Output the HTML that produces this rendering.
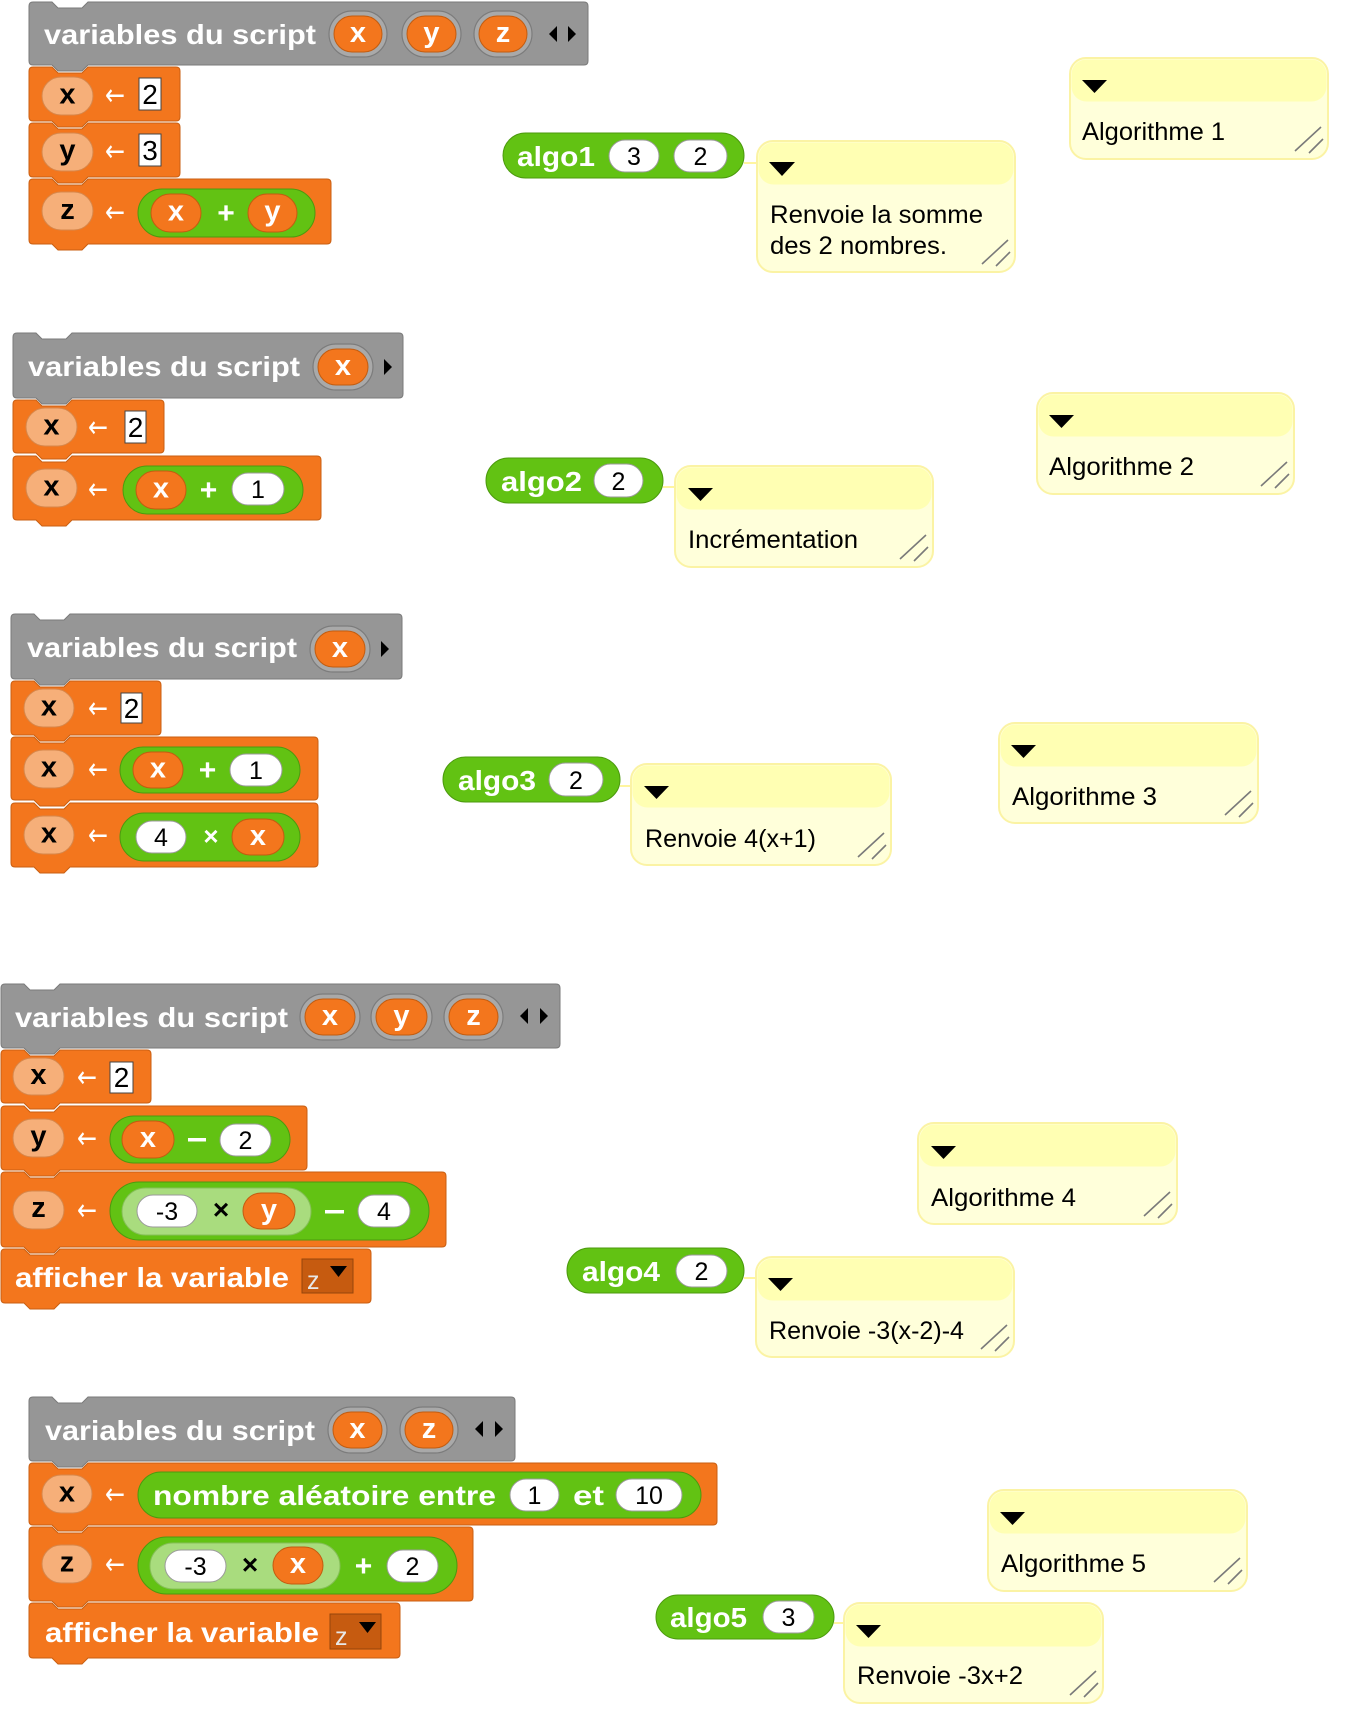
<!DOCTYPE html>
<html><head><meta charset="utf-8">
<style>
html,body{margin:0;padding:0;background:#fff;}
svg{display:block;}
text{font-family:"Liberation Sans","DejaVu Sans",sans-serif;}
.lb{font-weight:bold;fill:#fff;font-size:28px;}
.vw{font-weight:bold;fill:#fff;font-size:29px;text-anchor:middle;}
.vb{font-weight:bold;fill:#000;font-size:29px;text-anchor:middle;}
.nm{fill:#000;font-size:25px;text-anchor:middle;}
.in{fill:#000;font-size:28px;text-anchor:middle;}
.ar{fill:#fff;font-size:30px;font-family:"DejaVu Sans",sans-serif !important;}
.op{fill:#fff;font-weight:bold;font-size:30px;text-anchor:middle;}
.opb{fill:#000;font-weight:bold;font-size:28px;text-anchor:middle;}
.cm{fill:#000;font-size:25px;}
.blk{fill:#F3761D;stroke:#C95F12;stroke-width:1;}
.gry{fill:#969696;stroke:#7A7A7A;stroke-width:1;}
.lp{fill:#F6AF79;stroke:#D7874B;stroke-width:1;}
.op1{fill:#F3761D;stroke:#C25C10;stroke-width:1;}
.ring{fill:#A9A9A9;stroke:#7C7C7C;stroke-width:1.2;}
.gr{fill:#62C213;stroke:#4C9A0E;stroke-width:1;}
.lg{fill:#A9DC7E;stroke:#86BF58;stroke-width:1;}
.wo{fill:#fff;stroke:#9A9A9A;stroke-width:1;}
.sl{fill:#fff;stroke:#444;stroke-width:1;}
.cb{fill:#FFFFDA;stroke:#FBF3A4;stroke-width:2;}
.ch{fill:#FFFFB3;}
.rh{stroke:#7A7A7A;stroke-width:1.6;fill:none;}
.ln{stroke:#FFF5A0;stroke-width:2;}
.dd{fill:#C65B10;stroke:#96450B;stroke-width:1;}
</style></head>
<body>
<svg width="1350" height="1736" viewBox="0 0 1350 1736" xmlns="http://www.w3.org/2000/svg">
<rect width="1350" height="1736" fill="#fff"/>

<!-- ============ SECTION 1 ============ -->
<path class="gry" d="M29,6 Q29,2 33,2 H52 L58,8 H82 L88,2 H584 Q588,2 588,6 V61 Q588,65 584,65 H88 L82,71 H58 L52,65 H33 Q29,65 29,61 Z"/>
<text class="lb" x="44" y="44" textLength="272" lengthAdjust="spacingAndGlyphs">variables du script</text>
<rect class="ring" x="329" y="11" width="58" height="46" rx="23"/>
<rect class="op1" x="334" y="16" width="48" height="36" rx="18"/>
<text class="vw" x="358" y="42">x</text>
<rect class="ring" x="402" y="11" width="59" height="46" rx="23"/>
<rect class="op1" x="407" y="16" width="49" height="36" rx="18"/>
<text class="vw" x="431.5" y="42">y</text>
<rect class="ring" x="474" y="11" width="58" height="46" rx="23"/>
<rect class="op1" x="479" y="16" width="48" height="36" rx="18"/>
<text class="vw" x="503" y="42">z</text>
<polygon points="549,34 557,26 557,42" fill="#000"/>
<polygon points="568,26 568,42 576,34" fill="#000"/>

<path class="blk" d="M29,71 Q29,67 33,67 H52 L58,73 H82 L88,67 H176 Q180,67 180,71 V117 Q180,121 176,121 H88 L82,127 H58 L52,121 H33 Q29,121 29,117 Z"/>
<rect class="lp" x="42" y="77" width="51" height="38" rx="19"/>
<text class="vb" x="67.5" y="103.5">x</text>
<text class="ar" x="105" y="105" textLength="20" lengthAdjust="spacingAndGlyphs">←</text>
<rect class="sl" x="139" y="78" width="22" height="32"/>
<text class="in" x="150" y="104">2</text>

<path class="blk" d="M29,127 Q29,123 33,123 H52 L58,129 H82 L88,123 H176 Q180,123 180,127 V173 Q180,177 176,177 H88 L82,183 H58 L52,177 H33 Q29,177 29,173 Z"/>
<rect class="lp" x="42" y="133" width="51" height="38" rx="19"/>
<text class="vb" x="67.5" y="159.5">y</text>
<text class="ar" x="105" y="161" textLength="20" lengthAdjust="spacingAndGlyphs">←</text>
<rect class="sl" x="139" y="134" width="22" height="32"/>
<text class="in" x="150" y="160">3</text>

<path class="blk" d="M29,183 Q29,179 33,179 H52 L58,185 H82 L88,179 H327 Q331,179 331,183 V240 Q331,244 327,244 H88 L82,250 H58 L52,244 H33 Q29,244 29,240 Z"/>
<rect class="lp" x="42" y="192" width="51" height="38" rx="19"/>
<text class="vb" x="67.5" y="219">z</text>
<text class="ar" x="105" y="222" textLength="20" lengthAdjust="spacingAndGlyphs">←</text>
<rect class="gr" x="138" y="189" width="177" height="48" rx="24"/>
<rect class="op1" x="151" y="194" width="50" height="38" rx="19"/>
<text class="vw" x="176" y="220.5">x</text>
<text class="op" x="226" y="223">+</text>
<rect class="op1" x="248" y="194" width="49" height="38" rx="19"/>
<text class="vw" x="272.5" y="220.5">y</text>

<line class="ln" x1="744" y1="163" x2="758" y2="163"/>
<rect class="gr" x="503" y="133" width="241" height="45" rx="22.5"/>
<text class="lb" x="517" y="166" textLength="78" lengthAdjust="spacingAndGlyphs">algo1</text>
<rect class="wo" x="609" y="140" width="50" height="32" rx="16"/>
<text class="nm" x="634" y="165">3</text>
<rect class="wo" x="674" y="140" width="53" height="32" rx="16"/>
<text class="nm" x="700.5" y="165">2</text>

<!-- comment C1a -->
<rect class="cb" x="757" y="141" width="258" height="131" rx="16"/>
<rect class="ch" x="758.5" y="142.5" width="255" height="42" rx="15"/>
<polygon points="769,162 795,162 782,176" fill="#000"/>
<text class="cm" x="770" y="223" textLength="213" lengthAdjust="spacingAndGlyphs">Renvoie la somme</text>
<text class="cm" x="770" y="254" textLength="177" lengthAdjust="spacingAndGlyphs">des 2 nombres.</text>
<path class="rh" d="M1008,240 L982,264 M1010,252 L996,266"/>
<!-- comment C1b -->
<rect class="cb" x="1070" y="58" width="258" height="101" rx="16"/>
<rect class="ch" x="1071.5" y="59.5" width="255" height="42" rx="15"/>
<polygon points="1082,80 1107,80 1094.5,93" fill="#000"/>
<text class="cm" x="1082" y="140" textLength="143" lengthAdjust="spacingAndGlyphs">Algorithme 1</text>
<path class="rh" d="M1321,127 L1295,151 M1323,139 L1309,153"/>

<!-- ============ SECTION 2 ============ -->
<path class="gry" d="M13,337 Q13,333 17,333 H36 L42,339 H66 L72,333 H399 Q403,333 403,337 V394 Q403,398 399,398 H72 L66,404 H42 L36,398 H17 Q13,398 13,394 Z"/>
<text class="lb" x="28" y="376" textLength="272" lengthAdjust="spacingAndGlyphs">variables du script</text>
<rect class="ring" x="313" y="344" width="60" height="46" rx="23"/>
<rect class="op1" x="318" y="349" width="50" height="36" rx="18"/>
<text class="vw" x="343" y="375">x</text>
<polygon points="384,359 384,375 392,367" fill="#000"/>

<path class="blk" d="M13,404 Q13,400 17,400 H36 L42,406 H66 L72,400 H160 Q164,400 164,404 V449 Q164,453 160,453 H72 L66,459 H42 L36,453 H17 Q13,453 13,449 Z"/>
<rect class="lp" x="26" y="408" width="51" height="38" rx="19"/>
<text class="vb" x="51.5" y="434.5">x</text>
<text class="ar" x="88" y="437" textLength="20" lengthAdjust="spacingAndGlyphs">←</text>
<rect class="sl" x="125" y="411" width="21" height="32"/>
<text class="in" x="135.5" y="437">2</text>

<path class="blk" d="M13,460 Q13,456 17,456 H36 L42,462 H66 L72,456 H317 Q321,456 321,460 V516 Q321,520 317,520 H72 L66,526 H42 L36,520 H17 Q13,520 13,516 Z"/>
<rect class="lp" x="26" y="469" width="51" height="38" rx="19"/>
<text class="vb" x="51.5" y="495.5">x</text>
<text class="ar" x="88" y="499" textLength="20" lengthAdjust="spacingAndGlyphs">←</text>
<rect class="gr" x="123" y="466" width="180" height="48" rx="24"/>
<rect class="op1" x="136" y="471" width="50" height="38" rx="19"/>
<text class="vw" x="161" y="497.5">x</text>
<text class="op" x="208.5" y="500">+</text>
<rect class="wo" x="232" y="473" width="52" height="32" rx="16"/>
<text class="nm" x="258" y="498">1</text>

<line class="ln" x1="663" y1="487" x2="676" y2="487"/>
<rect class="gr" x="486" y="458" width="177" height="45" rx="22.5"/>
<text class="lb" x="501" y="491" textLength="81" lengthAdjust="spacingAndGlyphs">algo2</text>
<rect class="wo" x="594" y="464" width="49" height="33" rx="16.5"/>
<text class="nm" x="618.5" y="490">2</text>

<rect class="cb" x="675" y="466" width="258" height="101" rx="16"/>
<rect class="ch" x="676.5" y="467.5" width="255" height="42" rx="15"/>
<polygon points="688,488 713,488 700.5,501" fill="#000"/>
<text class="cm" x="688" y="548" textLength="170" lengthAdjust="spacingAndGlyphs">Incrémentation</text>
<path class="rh" d="M926,535 L900,559 M928,547 L914,561"/>

<rect class="cb" x="1037" y="393" width="257" height="101" rx="16"/>
<rect class="ch" x="1038.5" y="394.5" width="254" height="42" rx="15"/>
<polygon points="1049,415 1074,415 1061.5,428" fill="#000"/>
<text class="cm" x="1049" y="475" textLength="145" lengthAdjust="spacingAndGlyphs">Algorithme 2</text>
<path class="rh" d="M1287,462 L1261,486 M1289,474 L1275,488"/>

<!-- ============ SECTION 3 ============ -->
<path class="gry" d="M11,618 Q11,614 15,614 H34 L40,620 H64 L70,614 H398 Q402,614 402,618 V675 Q402,679 398,679 H70 L64,685 H40 L34,679 H15 Q11,679 11,675 Z"/>
<text class="lb" x="27" y="657" textLength="270" lengthAdjust="spacingAndGlyphs">variables du script</text>
<rect class="ring" x="310" y="626" width="60" height="46" rx="23"/>
<rect class="op1" x="315" y="631" width="50" height="36" rx="18"/>
<text class="vw" x="340" y="657">x</text>
<polygon points="381,641 381,657 389,649" fill="#000"/>

<path class="blk" d="M11,685 Q11,681 15,681 H34 L40,687 H64 L70,681 H157 Q161,681 161,685 V731 Q161,735 157,735 H70 L64,741 H40 L34,735 H15 Q11,735 11,731 Z"/>
<rect class="lp" x="24" y="689" width="50" height="38" rx="19"/>
<text class="vb" x="49" y="715.5">x</text>
<text class="ar" x="88" y="718" textLength="20" lengthAdjust="spacingAndGlyphs">←</text>
<rect class="sl" x="121" y="693" width="21" height="30"/>
<text class="in" x="131.5" y="718">2</text>

<path class="blk" d="M11,741 Q11,737 15,737 H34 L40,743 H64 L70,737 H314 Q318,737 318,741 V796 Q318,800 314,800 H70 L64,806 H40 L34,800 H15 Q11,800 11,796 Z"/>
<rect class="lp" x="24" y="750" width="50" height="38" rx="19"/>
<text class="vb" x="49" y="776.5">x</text>
<text class="ar" x="88" y="779" textLength="20" lengthAdjust="spacingAndGlyphs">←</text>
<rect class="gr" x="120" y="747" width="180" height="46" rx="23"/>
<rect class="op1" x="133" y="752" width="50" height="36" rx="18"/>
<text class="vw" x="158" y="777.5">x</text>
<text class="op" x="207.5" y="780">+</text>
<rect class="wo" x="230" y="754" width="52" height="32" rx="16"/>
<text class="nm" x="256" y="779">1</text>

<path class="blk" d="M11,807 Q11,803 15,803 H34 L40,809 H64 L70,803 H314 Q318,803 318,807 V863 Q318,867 314,867 H70 L64,873 H40 L34,867 H15 Q11,867 11,863 Z"/>
<rect class="lp" x="24" y="816" width="50" height="38" rx="19"/>
<text class="vb" x="49" y="842.5">x</text>
<text class="ar" x="88" y="845" textLength="20" lengthAdjust="spacingAndGlyphs">←</text>
<rect class="gr" x="120" y="813" width="180" height="48" rx="24"/>
<rect class="wo" x="136" y="821" width="50" height="32" rx="16"/>
<text class="nm" x="161" y="846">4</text>
<text class="op" x="211" y="845" style="font-size:26px">×</text>
<rect class="op1" x="232" y="819" width="52" height="36" rx="18"/>
<text class="vw" x="258" y="845">x</text>

<line class="ln" x1="620" y1="786" x2="632" y2="786"/>
<rect class="gr" x="443" y="757" width="177" height="45" rx="22.5"/>
<text class="lb" x="458" y="790" textLength="78" lengthAdjust="spacingAndGlyphs">algo3</text>
<rect class="wo" x="549" y="763" width="54" height="33" rx="16.5"/>
<text class="nm" x="576" y="789">2</text>

<rect class="cb" x="631" y="764" width="260" height="101" rx="16"/>
<rect class="ch" x="632.5" y="765.5" width="257" height="42" rx="15"/>
<polygon points="644,786 669,786 656.5,799" fill="#000"/>
<text class="cm" x="645" y="847" textLength="171" lengthAdjust="spacingAndGlyphs">Renvoie 4(x+1)</text>
<path class="rh" d="M884,833 L858,857 M886,845 L872,859"/>

<rect class="cb" x="999" y="723" width="259" height="100" rx="16"/>
<rect class="ch" x="1000.5" y="724.5" width="256" height="42" rx="15"/>
<polygon points="1011,745 1036,745 1023.5,758" fill="#000"/>
<text class="cm" x="1012" y="805" textLength="145" lengthAdjust="spacingAndGlyphs">Algorithme 3</text>
<path class="rh" d="M1251,791 L1225,815 M1253,803 L1239,817"/>

<!-- ============ SECTION 4 ============ -->
<path class="gry" d="M1,988 Q1,984 5,984 H24 L30,990 H54 L60,984 H556 Q560,984 560,988 V1044 Q560,1048 556,1048 H60 L54,1054 H30 L24,1048 H5 Q1,1048 1,1044 Z"/>
<text class="lb" x="15" y="1027" textLength="273" lengthAdjust="spacingAndGlyphs">variables du script</text>
<rect class="ring" x="300" y="994" width="60" height="46" rx="23"/>
<rect class="op1" x="305" y="999" width="50" height="36" rx="18"/>
<text class="vw" x="330" y="1025">x</text>
<rect class="ring" x="371" y="994" width="61" height="46" rx="23"/>
<rect class="op1" x="376" y="999" width="51" height="36" rx="18"/>
<text class="vw" x="401.5" y="1025">y</text>
<rect class="ring" x="444" y="994" width="59" height="46" rx="23"/>
<rect class="op1" x="449" y="999" width="49" height="36" rx="18"/>
<text class="vw" x="473.5" y="1025">z</text>
<polygon points="520,1016 528,1008 528,1024" fill="#000"/>
<polygon points="540,1008 540,1024 548,1016" fill="#000"/>

<path class="blk" d="M1,1054 Q1,1050 5,1050 H24 L30,1056 H54 L60,1050 H147 Q151,1050 151,1054 V1099 Q151,1103 147,1103 H60 L54,1109 H30 L24,1103 H5 Q1,1103 1,1099 Z"/>
<rect class="lp" x="13" y="1058" width="51" height="37" rx="18.5"/>
<text class="vb" x="38.5" y="1084">x</text>
<text class="ar" x="77" y="1087" textLength="20" lengthAdjust="spacingAndGlyphs">←</text>
<rect class="sl" x="110" y="1062" width="23" height="31"/>
<text class="in" x="121.5" y="1087">2</text>

<path class="blk" d="M1,1110 Q1,1106 5,1106 H24 L30,1112 H54 L60,1106 H303 Q307,1106 307,1110 V1166 Q307,1170 303,1170 H60 L54,1176 H30 L24,1170 H5 Q1,1170 1,1166 Z"/>
<rect class="lp" x="13" y="1119" width="51" height="38" rx="19"/>
<text class="vb" x="38.5" y="1145.5">y</text>
<text class="ar" x="77" y="1148" textLength="20" lengthAdjust="spacingAndGlyphs">←</text>
<rect class="gr" x="110" y="1116" width="180" height="47" rx="23.5"/>
<rect class="op1" x="122" y="1121" width="52" height="37" rx="18.5"/>
<text class="vw" x="148" y="1147">x</text>
<rect x="188" y="1138" width="18" height="3.5" fill="#fff"/>
<rect class="wo" x="220" y="1124" width="51" height="32" rx="16"/>
<text class="nm" x="245.5" y="1149">2</text>

<path class="blk" d="M1,1176 Q1,1172 5,1172 H24 L30,1178 H54 L60,1172 H442 Q446,1172 446,1176 V1243 Q446,1247 442,1247 H60 L54,1253 H30 L24,1247 H5 Q1,1247 1,1243 Z"/>
<rect class="lp" x="13" y="1191" width="51" height="38" rx="19"/>
<text class="vb" x="38.5" y="1217">z</text>
<text class="ar" x="77" y="1220" textLength="20" lengthAdjust="spacingAndGlyphs">←</text>
<rect class="gr" x="110" y="1182" width="319" height="58" rx="29"/>
<rect class="lg" x="122" y="1188" width="189" height="47" rx="23.5"/>
<rect class="wo" x="137" y="1195" width="60" height="32" rx="16"/>
<text class="nm" x="167" y="1220">-3</text>
<text class="opb" x="221" y="1219">×</text>
<rect class="op1" x="243" y="1193" width="52" height="36" rx="18"/>
<text class="vw" x="269" y="1219">y</text>
<rect x="325" y="1210" width="19" height="3.5" fill="#fff"/>
<rect class="wo" x="358" y="1195" width="52" height="32" rx="16"/>
<text class="nm" x="384" y="1220">4</text>

<path class="blk" d="M1,1253 Q1,1249 5,1249 H24 L30,1255 H54 L60,1249 H367 Q371,1249 371,1253 V1299 Q371,1303 367,1303 H60 L54,1309 H30 L24,1303 H5 Q1,1303 1,1299 Z"/>
<text class="lb" x="15" y="1287" textLength="274" lengthAdjust="spacingAndGlyphs">afficher la variable</text>
<rect class="dd" x="302" y="1259" width="51" height="34"/>
<text x="307" y="1289" style="fill:#e8e8e8;font-size:25px">z</text>
<polygon points="330,1266 347,1266 338.5,1277" fill="#000"/>

<line class="ln" x1="744" y1="1278" x2="757" y2="1278"/>
<rect class="gr" x="567" y="1248" width="177" height="45" rx="22.5"/>
<text class="lb" x="582" y="1281" textLength="78" lengthAdjust="spacingAndGlyphs">algo4</text>
<rect class="wo" x="676" y="1255" width="51" height="32" rx="16"/>
<text class="nm" x="701.5" y="1280">2</text>

<rect class="cb" x="756" y="1257" width="258" height="100" rx="16"/>
<rect class="ch" x="757.5" y="1258.5" width="255" height="42" rx="15"/>
<polygon points="768,1278 793,1278 780.5,1291" fill="#000"/>
<text class="cm" x="769" y="1339" textLength="195" lengthAdjust="spacingAndGlyphs">Renvoie -3(x-2)-4</text>
<path class="rh" d="M1007,1325 L981,1349 M1009,1337 L995,1351"/>

<rect class="cb" x="918" y="1123" width="259" height="101" rx="16"/>
<rect class="ch" x="919.5" y="1124.5" width="256" height="42" rx="15"/>
<polygon points="931,1146 956,1146 943.5,1159" fill="#000"/>
<text class="cm" x="931" y="1206" textLength="145" lengthAdjust="spacingAndGlyphs">Algorithme 4</text>
<path class="rh" d="M1170,1192 L1144,1216 M1172,1204 L1158,1218"/>

<!-- ============ SECTION 5 ============ -->
<path class="gry" d="M29,1401 Q29,1397 33,1397 H52 L58,1403 H82 L88,1397 H511 Q515,1397 515,1401 V1457 Q515,1461 511,1461 H88 L82,1467 H58 L52,1461 H33 Q29,1461 29,1457 Z"/>
<text class="lb" x="45" y="1440" textLength="270" lengthAdjust="spacingAndGlyphs">variables du script</text>
<rect class="ring" x="328" y="1407" width="59" height="46" rx="23"/>
<rect class="op1" x="333" y="1412" width="49" height="36" rx="18"/>
<text class="vw" x="357.5" y="1438">x</text>
<rect class="ring" x="400" y="1407" width="58" height="46" rx="23"/>
<rect class="op1" x="405" y="1412" width="48" height="36" rx="18"/>
<text class="vw" x="429" y="1438">z</text>
<polygon points="475,1429 483,1421 483,1437" fill="#000"/>
<polygon points="495,1421 495,1437 503,1429" fill="#000"/>

<path class="blk" d="M29,1467 Q29,1463 33,1463 H52 L58,1469 H82 L88,1463 H713 Q717,1463 717,1467 V1521 Q717,1525 713,1525 H88 L82,1531 H58 L52,1525 H33 Q29,1525 29,1521 Z"/>
<rect class="lp" x="42" y="1475" width="50" height="38" rx="19"/>
<text class="vb" x="67" y="1501.5">x</text>
<text class="ar" x="105" y="1504" textLength="20" lengthAdjust="spacingAndGlyphs">←</text>
<rect class="gr" x="138" y="1472" width="563" height="46" rx="23"/>
<text class="lb" x="153" y="1505" textLength="343" lengthAdjust="spacingAndGlyphs">nombre aléatoire entre</text>
<rect class="wo" x="510" y="1479" width="49" height="32" rx="16"/>
<text class="nm" x="534.5" y="1504">1</text>
<text class="lb" x="573" y="1505" textLength="31" lengthAdjust="spacingAndGlyphs">et</text>
<rect class="wo" x="616" y="1479" width="66" height="32" rx="16"/>
<text class="nm" x="649" y="1504">10</text>

<path class="blk" d="M29,1531 Q29,1527 33,1527 H52 L58,1533 H82 L88,1527 H469 Q473,1527 473,1531 V1597 Q473,1601 469,1601 H88 L82,1607 H58 L52,1601 H33 Q29,1601 29,1597 Z"/>
<rect class="lp" x="42" y="1545" width="50" height="38" rx="19"/>
<text class="vb" x="67" y="1571.5">z</text>
<text class="ar" x="105" y="1574" textLength="20" lengthAdjust="spacingAndGlyphs">←</text>
<rect class="gr" x="138" y="1537" width="319" height="57" rx="28.5"/>
<rect class="lg" x="150" y="1543" width="190" height="46" rx="23"/>
<rect class="wo" x="165" y="1550" width="61" height="32" rx="16"/>
<text class="nm" x="195.5" y="1575">-3</text>
<text class="opb" x="250" y="1574">×</text>
<rect class="op1" x="273" y="1547" width="50" height="37" rx="18.5"/>
<text class="vw" x="298" y="1573">x</text>
<text class="op" x="363.5" y="1576">+</text>
<rect class="wo" x="387" y="1550" width="51" height="32" rx="16"/>
<text class="nm" x="412.5" y="1575">2</text>

<path class="blk" d="M29,1607 Q29,1603 33,1603 H52 L58,1609 H82 L88,1603 H396 Q400,1603 400,1607 V1654 Q400,1658 396,1658 H88 L82,1664 H58 L52,1658 H33 Q29,1658 29,1654 Z"/>
<text class="lb" x="45" y="1642" textLength="274" lengthAdjust="spacingAndGlyphs">afficher la variable</text>
<rect class="dd" x="330" y="1614" width="51" height="35"/>
<text x="335" y="1645" style="fill:#e8e8e8;font-size:25px">z</text>
<polygon points="359,1622 376,1622 367.5,1633" fill="#000"/>

<line class="ln" x1="834" y1="1623" x2="845" y2="1623"/>
<rect class="gr" x="656" y="1595" width="178" height="44" rx="22"/>
<text class="lb" x="670" y="1627" textLength="77" lengthAdjust="spacingAndGlyphs">algo5</text>
<rect class="wo" x="763" y="1601" width="51" height="32" rx="16"/>
<text class="nm" x="788.5" y="1626">3</text>

<rect class="cb" x="844" y="1603" width="259" height="100" rx="16"/>
<rect class="ch" x="845.5" y="1604.5" width="256" height="42" rx="15"/>
<polygon points="856,1625 881,1625 868.5,1638" fill="#000"/>
<text class="cm" x="857" y="1684" textLength="166" lengthAdjust="spacingAndGlyphs">Renvoie -3x+2</text>
<path class="rh" d="M1096,1671 L1070,1695 M1098,1683 L1084,1697"/>

<rect class="cb" x="988" y="1490" width="259" height="101" rx="16"/>
<rect class="ch" x="989.5" y="1491.5" width="256" height="42" rx="15"/>
<polygon points="1000,1512 1025,1512 1012.5,1525" fill="#000"/>
<text class="cm" x="1001" y="1572" textLength="145" lengthAdjust="spacingAndGlyphs">Algorithme 5</text>
<path class="rh" d="M1240,1558 L1214,1582 M1242,1570 L1228,1584"/>
</svg>
</body></html>
